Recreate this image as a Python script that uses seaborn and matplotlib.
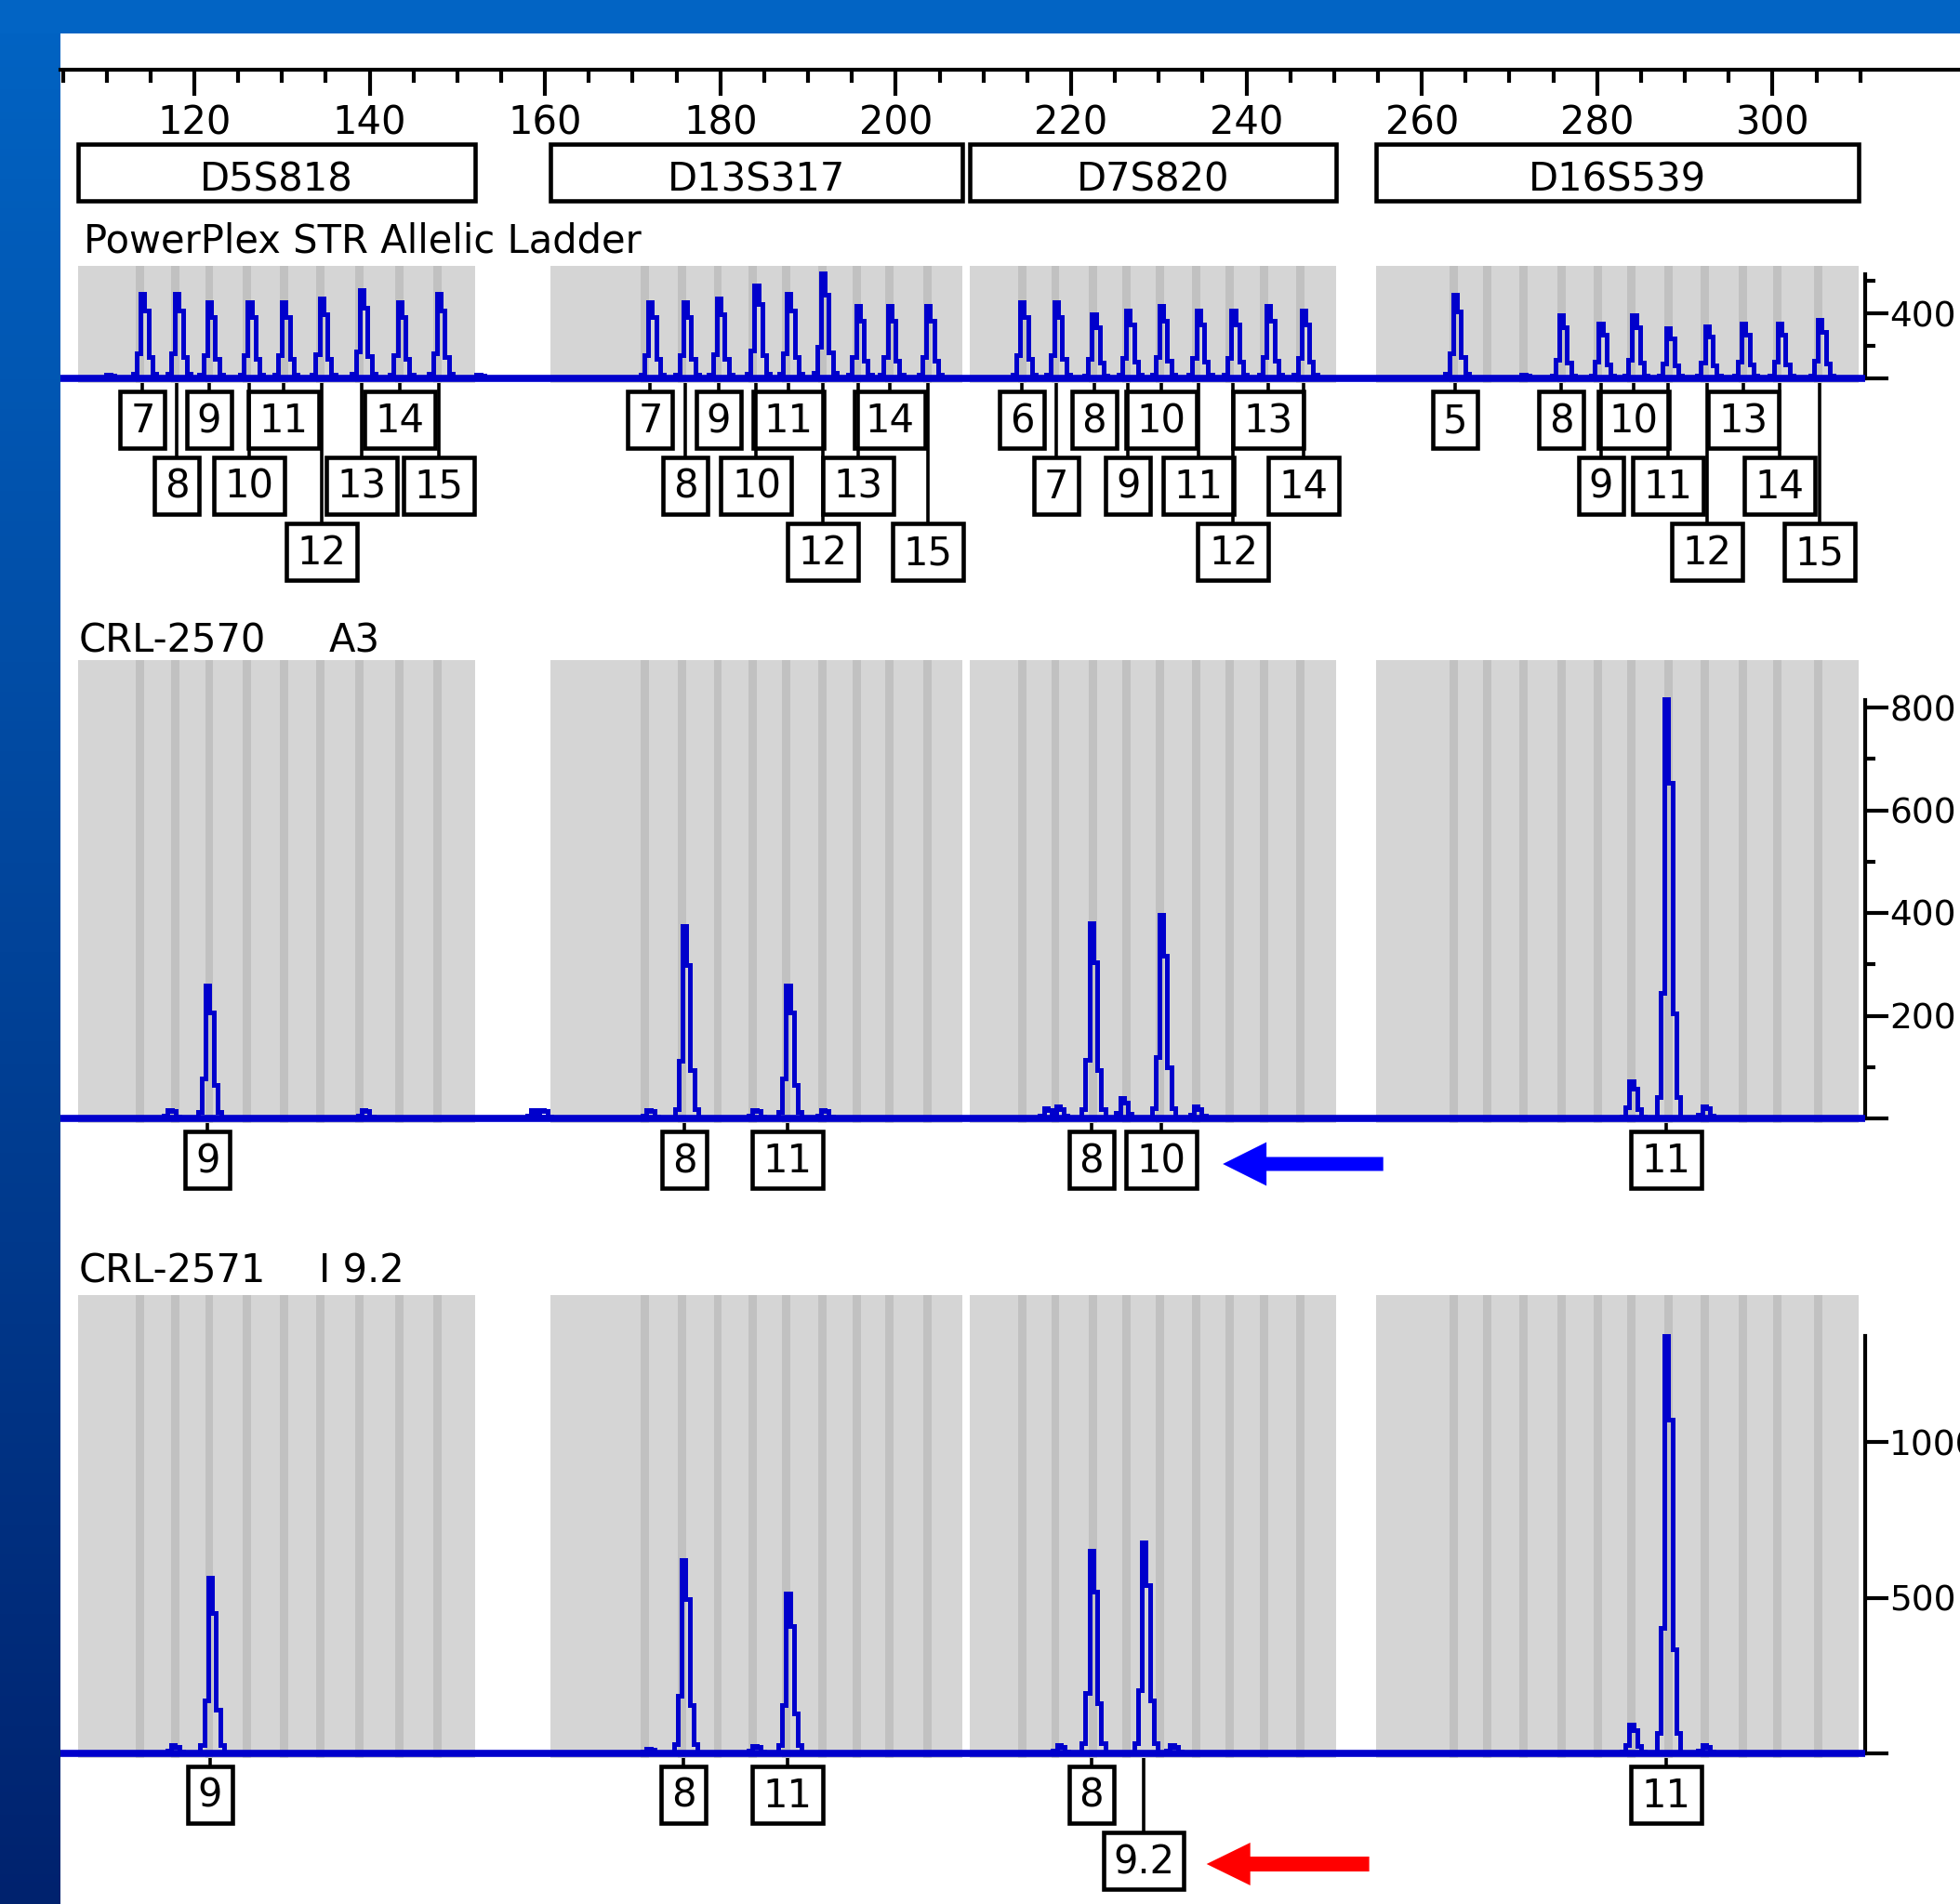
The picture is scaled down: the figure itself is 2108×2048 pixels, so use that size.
"""
Electropherogram: PowerPlex STR allelic ladder vs. two Jurkat clones
(CRL-2570 A3 and CRL-2571 I 9.2) at D5S818, D13S317, D7S820, D16S539.
"""
import numpy as np
import matplotlib
matplotlib.use("Agg")
import matplotlib.pyplot as plt
import matplotlib.colors as mcolors
from matplotlib.patches import Rectangle, FancyArrow
import seaborn as sns

sns.set_theme(style="white")
plt.rcParams["font.family"] = ["DejaVu Sans"]

W, H, DPI = 2108, 2048, 100
FS = 30
FS_Y = 27

BLUE_TRACE = "#0000CC"
GRAY_BIN = "#D5D5D5"
GRAY_ALLELE = "#C1C1C1"

# ---------------- data ----------------
LOCI = ["D5S818", "D13S317", "D7S820", "D16S539"]
LOCUS_START = [106.7, 160.6, 208.4, 254.8]
LOCUS_END = [152.0, 207.6, 250.2, 309.8]

BIN_D5S818 = [113.8, 117.8, 121.7, 126.0, 130.2, 134.4, 138.8, 143.4, 147.7]
BIN_D13S317 = [171.4, 175.6, 179.7, 183.7, 187.5, 191.6, 195.6, 199.3, 203.6]
BIN_D7S820 = [214.4, 218.2, 222.5, 226.3, 230.1, 234.3, 238.1, 242.0, 246.1]
BIN_D16S539 = [263.6, 267.5, 271.6, 275.9, 280.1, 283.9, 288.1, 292.3, 296.6, 300.5, 305.2]

LADDER_ALLELES = ["7", "8", "9", "10", "11", "12", "13", "14", "15",
                  "7", "8", "9", "10", "11", "12", "13", "14", "15",
                  "6", "7", "8", "9", "10", "11", "12", "13", "14",
                  "5", "8", "9", "10", "11", "12", "13", "14", "15"]
LADDER_BP = [114.1, 118.0, 121.7, 126.3, 130.2, 134.5, 139.1, 143.4, 147.9,
             172.0, 176.0, 179.8, 184.1, 187.8, 191.7, 195.7, 199.3, 203.7,
             214.4, 218.3, 222.6, 226.5, 230.3, 234.5, 238.5, 242.5, 246.5,
             263.8, 275.9, 280.4, 284.2, 288.1, 292.5, 296.7, 300.8, 305.4]
LADDER_RFU = [520, 520, 470, 470, 470, 490, 545, 470, 520,
              470, 470, 490, 570, 520, 645, 445, 445, 445,
              470, 470, 395, 415, 445, 415, 415, 445, 415,
              515, 390, 335, 390, 310, 320, 335, 335, 360]
LADDER_ROW = [0, 1, 0, 1, 0, 2, 1, 0, 1,
              0, 1, 0, 1, 0, 2, 1, 0, 2,
              0, 1, 0, 1, 0, 1, 2, 0, 1,
              0, 0, 1, 0, 1, 2, 0, 1, 2]
LADDER_NOISE_BP = [110.2, 152.4, 271.6]
LADDER_NOISE_RFU = [25, 25, 25]

A3_PEAK_BP = [117.2, 121.5, 139.3, 158.6, 159.6, 171.8, 175.9, 183.9, 187.7, 191.7,
              217.1, 218.5, 222.3, 225.8, 230.3, 234.2, 283.9, 287.9, 292.2]
A3_PEAK_RFU = [17, 259, 17, 17, 17, 17, 374, 17, 259, 17,
               20, 23, 380, 39, 396, 23, 72, 816, 24]
A3_CALL_BP = [121.5, 175.9, 187.7, 222.3, 230.3, 287.9]
A3_CALLS = ["9", "8", "11", "8", "10", "11"]
A3_ROW = [0, 0, 0, 0, 0, 0]

I92_PEAK_BP = [117.6, 121.8, 171.8, 175.8, 183.9, 187.7, 218.6, 222.3, 228.3, 231.5,
               283.9, 287.9, 292.2]
I92_PEAK_RFU = [27, 565, 15, 621, 25, 513, 27, 650, 677, 27, 92, 1341, 26]
I92_CALL_BP = [121.8, 175.8, 187.7, 222.3, 228.3, 287.9]
I92_CALLS = ["9", "8", "11", "8", "9.2", "11"]
I92_ROW = [0, 0, 0, 0, 1, 0]

RULER_MAJOR = [120, 140, 160, 180, 200, 220, 240, 260, 280, 300]
RULER_MINOR = list(range(105, 311, 5))

# ---------------- layout (pixels of the 2108x2048 canvas) ----------------
PANEL_X0 = 65
BP_LEFT, BP_RIGHT = 104.73, 321.38
PPB = (W - PANEL_X0) / (BP_RIGHT - BP_LEFT)
Y_AXIS_BP = 310.6
PEAK_SHAPE = [0.05, 0.3, 1.0, 0.8, 0.25, 0.05]
PEAK_APEX = 2
PEAK_STEP = 0.45
ROW_TOP, ROW_PITCH, BOX_H = 14, 71, 61


def frac(x0, y0, x1, y1):
    return [x0 / W, 1 - y1 / H, (x1 - x0) / W, (y1 - y0) / H]


def draw_peaks(ax, bps, rfus):
    for bp, h in zip(bps, rfus):
        idx = np.arange(len(PEAK_SHAPE)) - PEAK_APEX
        xs = bp + idx * PEAK_STEP
        ys = h * np.asarray(PEAK_SHAPE)
        xs = np.r_[xs[0] - PEAK_STEP, xs, xs[-1] + PEAK_STEP]
        ys = np.r_[0, ys, 0]
        ax.plot(xs, ys, drawstyle="steps-mid", color=BLUE_TRACE, lw=3.6,
                solid_joinstyle="miter", zorder=3)


def trace_axes(top, base, scale, spine_top, majors, labels, minors):
    bottom = base + 5
    ax = fig.add_axes(frac(PANEL_X0, top, W, bottom))
    ax.set_xlim(BP_LEFT, BP_RIGHT)
    ax.set_ylim(-(bottom - base) / scale, (base - top) / scale)
    ax.patch.set_alpha(0)
    for s in ["top", "left", "bottom"]:
        ax.spines[s].set_visible(False)
    sp = ax.spines["right"]
    sp.set_visible(True)
    sp.set_position(("data", Y_AXIS_BP))
    sp.set_bounds(0, spine_top)
    sp.set_linewidth(3)
    sp.set_color("black")
    ax.set_xticks([])
    ax.yaxis.tick_right()
    ax.set_yticks(majors)
    ax.set_yticklabels(labels)
    ax.set_yticks(minors, minor=True)
    ax.tick_params(axis="y", which="both", left=False, right=True,
                   labelleft=False, labelright=True, direction="out",
                   width=3, color="black")
    ax.tick_params(axis="y", which="major", length=18, pad=0.5,
                   labelsize=FS_Y, labelcolor="black")
    ax.tick_params(axis="y", which="minor", length=8)

    bins = [BIN_D5S818, BIN_D13S317, BIN_D7S820, BIN_D16S539]
    for s, e, b in zip(LOCUS_START, LOCUS_END, bins):
        ax.axvspan(s, e, color=GRAY_BIN, lw=0, zorder=0)
        for c in b:
            ax.axvspan(c - 0.47, c + 0.47, color=GRAY_ALLELE, lw=0, zorder=0.5)
    ax.plot([BP_LEFT, Y_AXIS_BP], [0, 0], color=BLUE_TRACE, lw=5.5,
            solid_capstyle="butt", zorder=3)
    return ax


def label_axes(base, height, bps, calls, rows):
    ax = fig.add_axes(frac(PANEL_X0, base, W, base + height))
    ax.set_xlim(BP_LEFT, BP_RIGHT)
    ax.set_ylim(height, 0)
    ax.axis("off")
    for bp, lab, r in zip(bps, calls, rows):
        top = ROW_TOP + r * ROW_PITCH
        n = sum(ch != "." for ch in lab)
        w = (20 + 28 * n + 10 * lab.count(".")) / PPB
        ax.plot([bp, bp], [5, top], color="black", lw=2.6,
                solid_capstyle="butt")
        ax.add_patch(Rectangle((bp - w / 2, top), w, BOX_H, fc="white",
                               ec="black", lw=3.3, joinstyle="miter"))
        ax.text(bp, top + 44, lab, ha="center", va="baseline", fontsize=FS,
                color="black")
    return ax


fig = plt.figure(figsize=(W / DPI, H / DPI), dpi=DPI, facecolor="white")

# blue slide border
ax_bg = fig.add_axes([0, 0, 1, 1], zorder=-10)
ax_bg.set_xlim(0, W)
ax_bg.set_ylim(H, 0)
ax_bg.axis("off")
border_cmap = mcolors.LinearSegmentedColormap.from_list("border", ["#0264C4", "#00226E"])
ax_bg.imshow(np.linspace(0, 1, 256)[:, None], extent=(0, PANEL_X0, H, 0),
             aspect="auto", cmap=border_cmap)
ax_bg.add_patch(Rectangle((0, 0), W, 36, color="#0264C4", lw=0))

# size ruler
ax_r = fig.add_axes(frac(PANEL_X0, 36, W, 75))
ax_r.set_xlim(BP_LEFT, BP_RIGHT)
ax_r.patch.set_alpha(0)
for s in ["top", "left", "right"]:
    ax_r.spines[s].set_visible(False)
ax_r.spines["bottom"].set_linewidth(3)
ax_r.spines["bottom"].set_color("black")
ax_r.set_yticks([])
ax_r.set_xticks(RULER_MAJOR)
ax_r.set_xticks(RULER_MINOR, minor=True)
ax_r.tick_params(axis="x", which="both", bottom=True, direction="out",
                 width=3, color="black")
ax_r.tick_params(axis="x", which="major", length=20, pad=6.5,
                 labelsize=FS, labelcolor="black")
ax_r.tick_params(axis="x", which="minor", length=10)

# locus boxes
ax_l = fig.add_axes(frac(PANEL_X0, 155, W, 216))
ax_l.set_xlim(BP_LEFT, BP_RIGHT)
ax_l.set_ylim(61, 0)
ax_l.axis("off")
for name, s, e in zip(LOCI, LOCUS_START, LOCUS_END):
    ax_l.add_patch(Rectangle((s, 0), e - s, 61, fc="white", ec="black",
                             lw=3.3, joinstyle="miter", clip_on=False))
    ax_l.text((s + e) / 2, 50, name, ha="center", va="baseline",
              fontsize=FS, color="black")

# ladder panel
fig.text(90 / W, 1 - 272 / H, "PowerPlex STR Allelic Ladder", fontsize=FS,
         va="baseline", color="black")
ax_lad = trace_axes(286, 407, 0.175, 640, [0, 400], ["", "400"], [200, 600])
draw_peaks(ax_lad, LADDER_BP + LADDER_NOISE_BP, LADDER_RFU + LADDER_NOISE_RFU)
label_axes(407, 230, LADDER_BP, LADDER_ALLELES, LADDER_ROW)

# CRL-2570 A3
fig.text(85 / W, 1 - 701 / H, "CRL-2570", fontsize=FS, va="baseline", color="black")
fig.text(354 / W, 1 - 701 / H, "A3", fontsize=FS, va="baseline", color="black")
ax_a3 = trace_axes(710, 1203, 0.5525, 815, [0, 200, 400, 600, 800],
                   ["", "200", "400", "600", "800"], [100, 300, 500, 700])
draw_peaks(ax_a3, A3_PEAK_BP, A3_PEAK_RFU)
lab_a3 = label_axes(1203, 90, A3_CALL_BP, A3_CALLS, A3_ROW)
lab_a3.add_patch(FancyArrow(255.6, 49, 237.3 - 255.6, 0, width=15, head_width=47,
                            head_length=47 / PPB, length_includes_head=True,
                            color="#0000FF", lw=0))

# CRL-2571 I 9.2
fig.text(85 / W, 1 - 1380 / H, "CRL-2571", fontsize=FS, va="baseline", color="black")
fig.text(343 / W, 1 - 1380 / H, "I 9.2", fontsize=FS, va="baseline", color="black")
ax_i92 = trace_axes(1393, 1886, 0.335, 1340, [0, 500, 1000],
                    ["", "500", "1000"], [])
draw_peaks(ax_i92, I92_PEAK_BP, I92_PEAK_RFU)
lab_i92 = label_axes(1886, 162, I92_CALL_BP, I92_CALLS, I92_ROW)
lab_i92.add_patch(FancyArrow(254.0, 119, 235.45 - 254.0, 0, width=16, head_width=46,
                             head_length=47 / PPB, length_includes_head=True,
                             color="#FF0000", lw=0))

fig.savefig("out.png", dpi=DPI, facecolor="white")
plt.close(fig)
